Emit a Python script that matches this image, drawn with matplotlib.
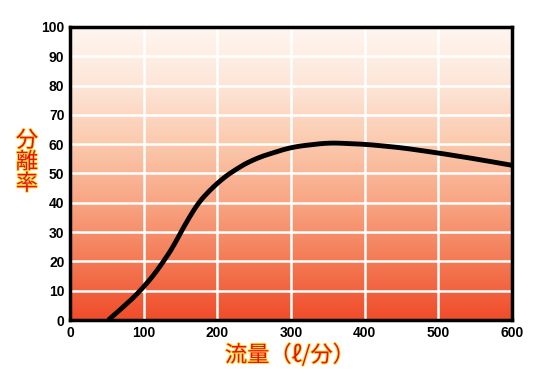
import numpy as np
import matplotlib.pyplot as plt
import matplotlib.patheffects as pe
from matplotlib.colors import LinearSegmentedColormap

plt.rcParams['font.family'] = ['Noto Sans CJK JP', 'DejaVu Sans']

# flow rate (l/min) vs separation rate (%)
flow = [52, 75, 100, 125, 150, 165, 185, 200, 225, 250, 300, 350, 400, 450, 500, 550, 600]
rate = [0, 5, 11, 19, 29, 37.5, 43, 47, 51.5, 55, 59, 60.5, 60, 58.8, 57, 55, 52.8]

x_ticks = [0, 100, 200, 300, 400, 500, 600]
y_ticks = [0, 10, 20, 30, 40, 50, 60, 70, 80, 90, 100]

fig = plt.figure(figsize=(5.37, 3.85), dpi=100)
ax = fig.add_axes([70 / 537, 65 / 385, 442 / 537, 293 / 385])

# background gradient, pale at top to red-orange at bottom
cmap = LinearSegmentedColormap.from_list(
    'bg', ['#f04c2a', '#f47a55', '#f8a583', '#fbc9ad', '#fde6d8', '#fff6f0'])
grad = np.linspace(0, 1, 256).reshape(-1, 1)
ax.imshow(grad, cmap=cmap, origin='lower', aspect='auto',
          extent=[0, 600, 0, 100], zorder=0)

ax.set_xlim(0, 600)
ax.set_ylim(0, 100)
ax.set_xticks(x_ticks)
ax.set_yticks(y_ticks)
ax.grid(True, color='white', lw=1.8, zorder=1)
ax.set_axisbelow(False)

# smooth the curve a little, keep the end points
xs = np.linspace(flow[0], flow[-1], 300)
ys = np.interp(xs, flow, rate)
k = 9
ys_s = np.convolve(np.pad(ys, k, mode='reflect', reflect_type='odd'),
                   np.ones(2 * k + 1) / (2 * k + 1), mode='same')[k:-k]
ax.plot(xs, ys_s, color='black', lw=3.5, solid_capstyle='butt', zorder=3)

for s in ax.spines.values():
    s.set_linewidth(2.5)
    s.set_zorder(4)
ax.tick_params(length=0, pad=4, labelsize=10)
for lab in ax.get_xticklabels() + ax.get_yticklabels():
    lab.set_fontweight('bold')
    lab.set_family('Liberation Sans')

glow = [pe.withStroke(linewidth=1.4, foreground='#ffe040')]
fig.text(27 / 537, 1 - 162 / 385, '分\n離\n率', color='#e8101a', fontsize=16,
         ha='center', va='center', linespacing=0.92, path_effects=glow)
fig.text(290 / 537, 1 - 355 / 385, '流量（ℓ/分）', color='#e8101a', fontsize=16,
         ha='center', va='center', path_effects=glow)

fig.savefig('out.png', dpi=100)
